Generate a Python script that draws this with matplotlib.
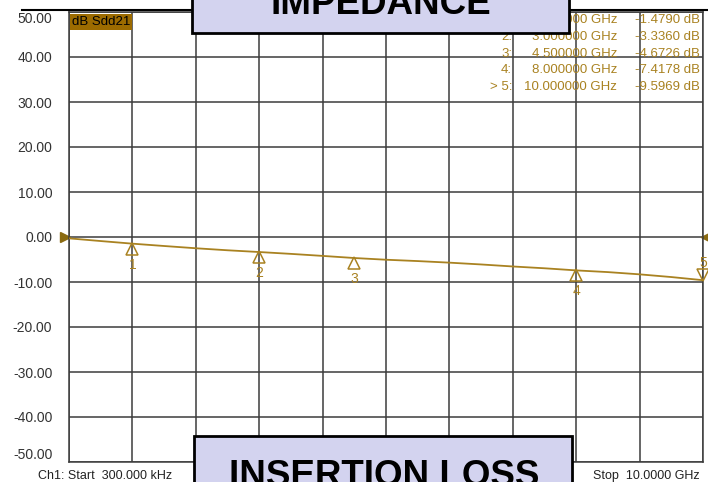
import matplotlib
matplotlib.use("Agg")
import matplotlib.pyplot as plt
from matplotlib.patches import Rectangle
from matplotlib.lines import Line2D
from matplotlib.transforms import offset_copy, blended_transform_factory

plt.rcParams['font.family'] = ['Liberation Sans', 'DejaVu Sans']

# trace (GHz, dB)
freq_ghz = [0.0003, 0.5, 1.0, 1.5, 2.0, 2.5, 3.0, 3.5, 4.0, 4.5, 5.0,
            5.5, 6.0, 6.5, 7.0, 7.5, 8.0, 8.5, 9.0, 9.5, 10.0]
sdd21_db = [-0.3, -0.9, -1.48, -2.0, -2.5, -2.95, -3.34, -3.75, -4.2, -4.67, -5.05,
            -5.35, -5.7, -6.1, -6.55, -6.95, -7.42, -7.8, -8.3, -8.9, -9.6]

# markers
marker_ids = ["1", "2", "3", "4", "5"]
marker_freq = [1.0, 3.0, 4.5, 8.0, 10.0]
marker_db = [-1.4790, -3.3360, -4.6726, -7.4178, -9.5969]
marker_prefix = ["1:", "2:", "3:", "4:", "> 5:"]

y_ticks = [50, 40, 30, 20, 10, 0, -10, -20, -30, -40, -50]
x_ticks = [0.0003 + i * (10 - 0.0003) / 10 for i in range(11)]

gold = '#a98221'
W, H = 708, 482
fig = plt.figure(figsize=(W / 100, H / 100), dpi=100)
ax = fig.add_axes([69 / W, 20 / H, 634 / W, 450 / H])

ax.plot(freq_ghz, sdd21_db, color=gold, lw=1.3, zorder=3)
ax.set_xlim(0.0003, 10)
ax.set_ylim(-50, 50)
ax.set_xticks(x_ticks)
ax.set_xticklabels([])
ax.set_yticks(y_ticks)
ax.set_yticklabels([f"{v:.2f}" for v in y_ticks])
ax.tick_params(length=0, pad=12, labelsize=10, labelcolor='#333333')
labels = ax.get_yticklabels()
labels[0].set_va('top')
labels[-1].set_va('bottom')
ax.grid(color='#3c3c3c', lw=1.1)
for s in ax.spines.values():
    s.set_color('#3c3c3c')
    s.set_linewidth(1.1)

# marker symbols
tri_up = offset_copy(ax.transData, fig, y=-5, units='dots')
lab_dn = offset_copy(ax.transData, fig, y=-21, units='dots')
tri_dn = offset_copy(ax.transData, fig, y=5, units='dots')
lab_up = offset_copy(ax.transData, fig, y=17, units='dots')
for mid, f, d in zip(marker_ids, marker_freq, marker_db):
    if mid == "5":
        ax.plot([f], [d], marker='v', ms=8, mfc='none', mec=gold, mew=1.1,
                transform=tri_dn, clip_on=False, zorder=4)
        ax.text(f, d, mid, transform=lab_up, ha='center', va='center',
                color=gold, fontsize=10, clip_on=False)
    else:
        ax.plot([f], [d], marker='^', ms=8, mfc='none', mec=gold, mew=1.1,
                transform=tri_up, zorder=4)
        ax.text(f, d, mid, transform=lab_dn, ha='center', va='center',
                color=gold, fontsize=10)

# reference level arrows
bt = blended_transform_factory(ax.transAxes, ax.transData)
ax.plot([-0.007], [0], marker='>', ms=7, color='#8a6a10', transform=bt, clip_on=False)
ax.plot([1.004], [0], marker='<', ms=7, color='#8a6a10', transform=bt, clip_on=False)

# trace label
ax.text(0.004, 0.992, "dB Sdd21", transform=ax.transAxes, ha='left', va='top',
        fontsize=9.5, color='black',
        bbox=dict(boxstyle='square,pad=0.15', fc='#9c6b00', ec='none'))

# marker table
def fig_text(x, y, s, **kw):
    fig.text(x / W, 1 - y / H, s, fontsize=9.5, color=gold, va='center', **kw)

for i, (p, f, d) in enumerate(zip(marker_prefix, marker_freq, marker_db)):
    y = 20 + i * 16.8
    fig_text(512, y, p, ha='right')
    fig_text(617, y, f"{f:.6f} GHz", ha='right')
    fig_text(700, y, f"{d:.4f} dB", ha='right')

# window frame line
fig.add_artist(Line2D([22 / W, 1], [1 - 10 / H, 1 - 10 / H], color='black', lw=1.5))

# bottom annotations
fig.text(38 / W, 1 - 476 / H, "Ch1: Start  300.000 kHz", fontsize=9, color='#222222', va='center')
fig.text(700 / W, 1 - 476 / H, "Stop  10.0000 GHz", fontsize=9, color='#222222',
         va='center', ha='right')

# overlay boxes
fig.add_artist(Rectangle((192 / W, 1 - 33 / H), 377 / W, 40 / H, fc='#d3d3ef',
                         ec='black', lw=2, zorder=10))
fig.text(381 / W, 1 - 14 / H, "IMPEDANCE", fontsize=26.5, fontweight='bold',
         ha='center', va='baseline', zorder=11)
fig.add_artist(Rectangle((194 / W, -10 / H), 378 / W, 46 / H + 10 / H, fc='#d3d3ef',
                         ec='black', lw=2, zorder=10))
fig.text(384 / W, 1 - 486 / H, "INSERTION LOSS", fontsize=26.5, fontweight='bold',
         ha='center', va='baseline', zorder=11)

fig.savefig("out.png", dpi=100)
